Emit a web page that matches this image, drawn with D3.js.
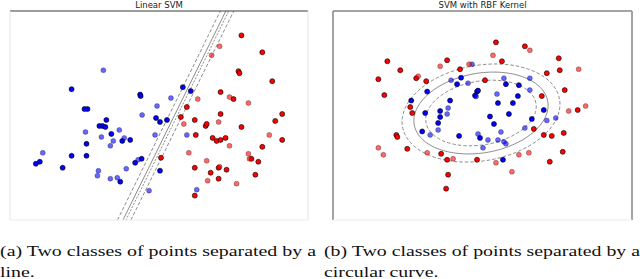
<!DOCTYPE html>
<html>
<head>
<meta charset="utf-8">
<script src="https://cdn.jsdelivr.net/npm/d3@7"></script>
<style>
    body { margin: 0; background: #fff; }
    svg { display: block; }
</style>
</head>
<body>
<script>
// panel titles and figure captions
var titles = ["Linear SVM", "SVM with RBF Kernel"];
var captions = [
    ["(a) Two classes of points separated by a", "line."],
    ["(b) Two classes of points separated by a", "circular curve."]
];

// linear SVM points, [x, y] in feature units
var linBlueTrain = [[-1.76,0.53],[-0.38,0.42],[-0.37,0.39],[0.48,0.57],[0.64,0.49],[-1.50,0.13],[-1.44,0.13],
    [-0.06,-0.05],[-1.06,-0.09],[0.16,-0.09],[0.02,-0.13],[-1.20,-0.21],[-1.14,-0.21],[-1.08,-0.23],[-0.96,-0.37],
    [-0.74,-0.51],[-0.58,-0.49],[-1.46,-0.57],[-1.76,-0.81],[-1.46,-0.81],[-2.40,-0.93],[-2.48,-0.97],[-1.94,-1.05],
    [-0.35,-0.87],[-0.48,-0.95],[-0.78,-1.33],[0.02,-1.11]];
var linBlueTest = [[-1.12,0.91],[0.24,0.35],[-0.04,0.19],[-0.34,0.01],[-0.80,-0.29],[-1.48,-0.33],[-1.16,-0.43],
    [-0.70,-0.45],[-0.92,-0.51],[-0.08,-0.39],[-0.98,-0.61],[-2.34,-0.75],[-0.42,-0.89],[-1.22,-1.11],[-1.24,-1.21],
    [-0.66,-1.07],[-0.98,-1.27],[-0.84,-1.25],[-0.20,-1.51],[0.56,-0.39],[0.76,-1.49]];
var linRedTrain = [[1.66,1.61],[2.08,1.27],[1.60,0.89],[1.62,0.85],[2.28,0.69],[1.24,0.47],[1.50,0.33],[0.56,0.17],
    [1.24,0.03],[0.44,-0.03],[2.48,0.03],[0.72,-0.09],[2.34,-0.11],[0.94,-0.21],[0.96,-0.17],[1.66,-0.23],[2.48,-0.49],
    [0.74,-0.39],[1.08,-0.45],[1.16,-0.51],[1.24,-0.49],[1.34,-0.45],[2.08,-0.63],[0.04,-0.85],[1.86,-0.87],
    [2.00,-0.93],[0.72,-1.05],[1.04,-1.15],[1.20,-1.05],[1.36,-1.09],[1.94,-1.19],[1.20,-1.27],[0.72,-1.61]];
var linRedTest = [[1.22,1.39],[1.06,1.21],[0.78,0.33],[1.42,0.37],[1.80,0.25],[0.50,-0.17],[1.20,-0.13],[2.22,-0.39],
    [1.42,-0.61],[0.60,-0.75],[1.80,-0.77],[1.82,-0.87],[0.96,-0.91],[1.22,-1.03],[0.98,-1.31],[1.56,-1.37]];

// RBF SVM points
var rbfBlueTrain = [[-0.43,0.76],[-0.51,0.63],[-0.11,0.48],[-0.09,0.50],[-0.15,0.40],[0.47,0.63],[0.73,0.61],
    [-1.11,0.48],[-0.65,0.30],[0.31,0.25],[0.61,0.25],[0.71,0.39],[1.23,0.11],[-1.43,0.30],[-0.85,0.09],[-0.85,-0.03],
    [-0.89,-0.15],[-1.15,0.05],[0.15,-0.02],[0.53,0.03],[0.23,-0.17],[0.99,-0.07],[-1.21,-0.32],[-0.47,-0.41],
    [-0.05,-0.45],[0.41,-0.89]];
var rbfBlueTest = [[-0.21,1.03],[-0.63,0.71],[-0.29,0.65],[-0.13,0.38],[0.43,0.75],[0.95,0.75],[0.95,0.51],[0.29,0.43],
    [-0.69,0.15],[-0.71,0.03],[1.29,-0.10],[1.47,-0.05],[-0.89,-0.29],[-1.05,-0.39],[-0.09,-0.37],[0.11,-0.49],
    [0.31,-0.49],[0.37,-0.33],[0.43,-0.53],[0.47,-0.57],[0.85,-0.25],[0.01,-0.65]];
var rbfRedTrain = [[0.27,1.47],[0.85,1.39],[0.39,1.09],[-1.91,1.09],[-1.65,0.91],[-0.71,1.11],[-0.45,0.93],[-2.09,0.73],
    [-1.33,0.75],[-1.13,0.69],[-1.97,0.41],[1.53,1.15],[1.55,0.91],[1.29,0.85],[1.65,0.51],[1.19,0.39],[1.91,0.11],
    [-1.45,0.17],[-1.41,0.05],[1.03,-0.27],[1.23,-0.39],[1.39,-0.41],[1.63,-0.35],[-1.73,-0.39],[-1.71,-0.43],
    [-1.51,-0.67],[-0.83,-0.77],[-0.71,-0.89],[-0.11,-0.89],[1.61,-0.73],[1.35,-0.93],[-0.69,-1.19],[-0.73,-1.47],
    [0.05,0.71]];
var rbfRedTest = [[0.21,1.21],[0.95,1.31],[-0.85,0.99],[-0.27,1.03],[-1.29,0.79],[1.93,0.93],[1.73,0.09],[2.07,0.19],
    [-2.09,-0.65],[-1.99,-0.79],[-1.11,-0.75],[-0.59,-0.87],[0.27,-0.95],[0.73,-0.79],[0.93,-0.75],[0.59,-1.13]];

// linear boundary: x = offset + slope * y
var boundaryOffsets = [0.20, 0.31, 0.37, 0.47];
var boundarySlope = 0.493;
// RBF boundary, approximated by rotated ellipses (outer margin, decision, inner margin)
var ellipseRx = [1.60, 1.36, 1.12];
var ellipseRy = [0.96, 0.80, 0.64];
var ellipseCenter = [-0.03, 0.05];
var ellipseAngle = 10;

(function () {
    "use strict";

    var width = 640, height = 279;
    var svg = d3.select("body").append("svg")
        .attr("width", width)
        .attr("height", height);

    var panels = [
        {left: 10, top: 11, width: 298, height: 209},
        {left: 333, top: 11, width: 299, height: 209}
    ];

    var blue = "#0000ff", red = "#ff0000", lineColor = "#6f6f6f";

    function makePanel(i) {
        var p = panels[i];
        var x = d3.scaleLinear().domain([-3, 3]).range([0, p.width]);
        var y = d3.scaleLinear().domain([-2.1, 2.1]).range([p.height, 0]);
        var g = svg.append("g").attr("transform", "translate(" + p.left + "," + p.top + ")");

        g.append("defs").append("clipPath")
            .attr("id", "clip" + i)
            .append("rect")
            .attr("width", p.width)
            .attr("height", p.height);

        g.append("text")
            .attr("x", p.width / 2)
            .attr("y", -3)
            .attr("text-anchor", "middle")
            .attr("font-family", "DejaVu Sans")
            .attr("font-size", 8.5)
            .attr("fill", "#222")
            .text(titles[i]);

        return {g: g, x: x, y: y, p: p, clipped: g.append("g").attr("clip-path", "url(#clip" + i + ")")};
    }

    function frame(panel, sides) {
        var p = panel.p;
        var segs = [
            {x1: 0, y1: 0, x2: p.width, y2: 0, s: sides.top},
            {x1: 0, y1: 0, x2: 0, y2: p.height, s: sides.left},
            {x1: p.width, y1: 0, x2: p.width, y2: p.height, s: sides.right},
            {x1: 0, y1: p.height, x2: p.width, y2: p.height, s: sides.bottom}
        ];
        panel.g.selectAll("line.frame").data(segs).enter().append("line")
            .attr("class", "frame")
            .attr("x1", function (d) { return d.x1; })
            .attr("y1", function (d) { return d.y1; })
            .attr("x2", function (d) { return d.x2; })
            .attr("y2", function (d) { return d.y2; })
            .attr("stroke", function (d) { return d.s[0]; })
            .attr("stroke-width", function (d) { return d.s[1]; });
    }

    function points(panel, data, color, test) {
        panel.g.append("g").selectAll("circle").data(data).enter().append("circle")
            .attr("cx", function (d) { return panel.x(d[0]); })
            .attr("cy", function (d) { return panel.y(d[1]); })
            .attr("r", 2.5)
            .attr("fill", color)
            .attr("fill-opacity", test ? 0.6 : 1)
            .attr("stroke", "#000")
            .attr("stroke-opacity", test ? 0.45 : 1)
            .attr("stroke-width", 0.6);
    }

    // (a) linear
    var lin = makePanel(0);
    frame(lin, {top: ["#3a3a3a", 1], left: ["#e4e4e4", 1], right: ["#e4e4e4", 1], bottom: ["#ececec", 1]});

    var boundaryDash = ["3.5,2", null, "2,1.5", "3.5,2"];
    lin.clipped.selectAll("line.boundary").data(boundaryOffsets).enter().append("line")
        .attr("class", "boundary")
        .attr("x1", function (d) { return lin.x(d + boundarySlope * -2.3); })
        .attr("y1", lin.y(-2.3))
        .attr("x2", function (d) { return lin.x(d + boundarySlope * 2.3); })
        .attr("y2", lin.y(2.3))
        .attr("stroke", lineColor)
        .attr("stroke-width", 0.8)
        .attr("stroke-dasharray", function (d, i) { return boundaryDash[i]; });

    points(lin, linBlueTrain, blue, false);
    points(lin, linRedTrain, red, false);
    points(lin, linBlueTest, blue, true);
    points(lin, linRedTest, red, true);

    // (b) RBF
    var rbf = makePanel(1);
    frame(rbf, {top: ["#4a4a4a", 1], left: ["#8c8c8c", 1.6], right: ["#8c8c8c", 1.6], bottom: ["#ececec", 1]});

    var rad = ellipseAngle * Math.PI / 180;
    var ts = d3.range(0, 2 * Math.PI + 0.01, Math.PI / 90);
    var curve = d3.line()
        .x(function (d) { return rbf.x(d[0]); })
        .y(function (d) { return rbf.y(d[1]); });
    var ellipseDash = ["3.5,2", null, "3.5,2"];
    rbf.clipped.selectAll("path.boundary").data(ellipseRx).enter().append("path")
        .attr("class", "boundary")
        .attr("d", function (rx, i) {
            var ry = ellipseRy[i];
            return curve(ts.map(function (t) {
                var ex = rx * Math.cos(t), ey = ry * Math.sin(t);
                return [ellipseCenter[0] + ex * Math.cos(rad) - ey * Math.sin(rad),
                        ellipseCenter[1] + ex * Math.sin(rad) + ey * Math.cos(rad)];
            }));
        })
        .attr("fill", "none")
        .attr("stroke", lineColor)
        .attr("stroke-width", 0.8)
        .attr("stroke-dasharray", function (d, i) { return ellipseDash[i]; });

    points(rbf, rbfBlueTrain, blue, false);
    points(rbf, rbfRedTrain, red, false);
    points(rbf, rbfBlueTest, blue, true);
    points(rbf, rbfRedTest, red, true);

    // captions: serif glyphs widened to the width of the original's Computer Modern lines
    var capX = [0, 324];
    var capWidth = 316;
    captions.forEach(function (lines, i) {
        var stretch = 1;
        lines.forEach(function (line, j) {
            var t = svg.append("text")
                .attr("x", capX[i])
                .attr("y", 256 + j * 20.5)
                .attr("font-family", "Liberation Serif")
                .attr("font-size", 14.5)
                .attr("fill", "#111")
                .text(line);
            var natural = t.node().getComputedTextLength();
            if (j === 0) {
                stretch = capWidth / natural;
            }
            t.attr("textLength", natural * stretch).attr("lengthAdjust", "spacingAndGlyphs");
        });
    });
})();
</script>
</body>
</html>
